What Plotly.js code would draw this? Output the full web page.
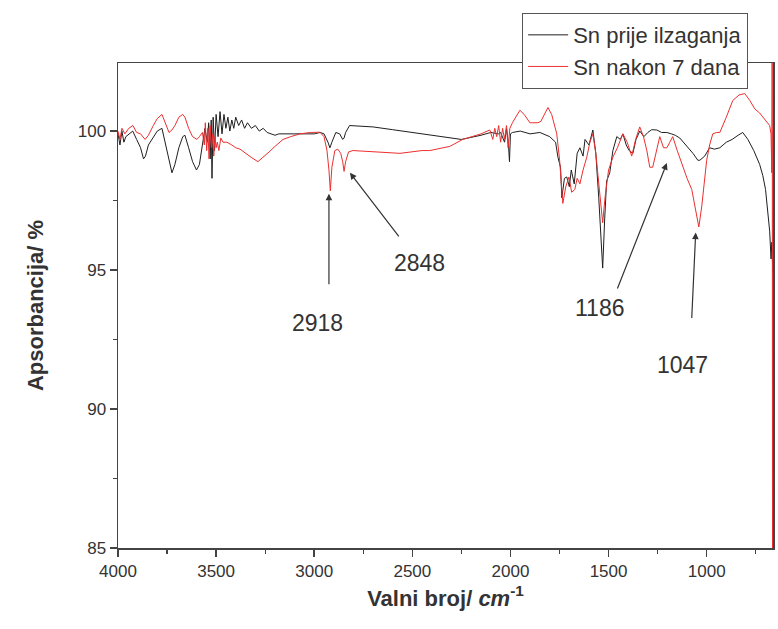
<!DOCTYPE html>
<html>
<head>
<meta charset="utf-8">
<script src="https://cdn.plot.ly/plotly-3.0.1.min.js"></script>
<style>html,body{margin:0;padding:0;background:#fff;}#chart{width:778px;height:629px;}</style>
</head>
<body>
<div id="chart"></div>
<script>
// Black series: "Sn prije ilzaganja"
var waveBefore = [4000,3990,3980,3970,3960,3945,3925,3905,3885,3870,3860,3845,3820,3800,3776,3760,3740,3725,3710,3690,3670,3659,3640,3620,3600,3585,3570,3557,3545,3538,3530,3525,3521,3515,3508,3500,3490,3480,3470,3460,3450,3440,3430,3420,3410,3400,3385,3370,3355,3340,3320,3300,3280,3260,3240,3220,3200,3180,3150,3100,3050,3000,2970,2950,2930,2920,2910,2890,2870,2855,2848,2840,2820,2700,2600,2500,2400,2300,2250,2150,2100,2060,2050,2030,2020,2010,2005,2000,1990,1950,1900,1850,1835,1800,1770,1758,1745,1738,1725,1713,1700,1690,1675,1660,1646,1630,1620,1600,1580,1565,1550,1540,1530,1520,1510,1494,1478,1458,1440,1427,1410,1395,1376,1360,1341,1320,1300,1280,1254,1230,1203,1180,1160,1137,1100,1070,1045,1035,1010,985,960,933,900,870,840,816,790,760,730,714,700,690,679,672,668,663];
var absBefore  = [99.9,99.5,100.0,99.6,99.8,99.9,100.0,99.7,99.4,99.0,99.1,99.5,99.8,100.0,100.1,99.6,98.9,98.5,98.8,99.4,99.8,99.85,99.4,98.9,98.6,98.8,99.5,100.1,99.6,100.3,99.0,100.4,98.3,100.5,99.3,100.6,99.8,100.7,99.9,100.6,100.1,100.5,100.0,100.4,100.1,100.5,100.2,100.4,100.1,100.3,100.1,100.2,100.0,100.1,99.95,99.9,99.85,99.9,99.9,99.9,99.9,99.9,99.95,99.9,99.6,99.4,99.6,99.95,99.9,99.7,99.75,99.95,100.2,100.15,100.05,99.95,99.85,99.75,99.7,99.85,99.95,99.9,99.95,99.6,100.1,99.5,98.9,99.9,99.95,100.0,99.9,99.95,99.9,99.8,99.6,99.06,98.7,97.6,98.3,98.35,98.0,98.6,98.1,99.2,99.4,99.1,99.7,99.5,100.04,99.2,97.6,96.2,95.07,96.8,98.2,98.5,99.3,99.8,99.7,99.9,99.5,99.3,99.2,99.7,100.0,99.8,99.95,100.05,100.04,99.95,99.95,99.9,99.85,99.75,99.45,99.2,98.95,98.95,99.1,99.4,99.35,99.4,99.6,99.7,99.85,99.95,99.7,99.3,98.8,98.4,97.9,97.2,96.4,95.4,96.0,94.9];

// Red series: "Sn nakon 7 dana"
var waveAfter = [4000,3990,3980,3965,3945,3924,3905,3885,3862,3845,3820,3800,3776,3760,3740,3725,3710,3690,3670,3659,3640,3620,3598,3585,3570,3560,3555,3548,3542,3536,3530,3524,3518,3512,3506,3500,3494,3486,3476,3465,3445,3420,3400,3378,3350,3320,3287,3260,3230,3200,3159,3120,3073,3020,2971,2950,2935,2925,2918,2910,2895,2880,2865,2855,2848,2840,2825,2803,2700,2563,2450,2411,2309,2243,2150,2105,2090,2080,2070,2060,2050,2040,2030,2020,2012,2003,1990,1975,1952,1930,1901,1886,1860,1845,1825,1809,1790,1764,1750,1733,1718,1702,1688,1672,1660,1646,1630,1611,1595,1580,1565,1550,1540,1530,1518,1500,1478,1455,1427,1405,1382,1362,1341,1322,1305,1290,1275,1255,1239,1220,1203,1188,1173,1150,1122,1100,1076,1055,1040,1025,1000,985,969,950,933,900,867,835,806,780,755,730,700,679,672,668,666,664,662];
var absAfter  = [100.0,99.7,100.1,99.9,100.1,100.2,99.95,99.9,99.7,99.85,100.2,100.45,100.6,100.3,99.95,100.04,100.2,100.5,100.6,100.5,100.1,99.8,99.7,99.8,99.95,99.5,100.3,99.3,100.1,99.0,100.2,99.4,99.9,99.1,99.8,99.4,99.6,99.3,99.75,99.6,99.6,99.5,99.4,99.35,99.2,99.05,98.9,99.05,99.25,99.45,99.7,99.8,99.9,99.95,99.96,99.8,99.3,98.6,97.85,98.7,99.3,99.35,99.2,98.9,98.55,98.9,99.25,99.3,99.25,99.2,99.3,99.3,99.45,99.7,99.9,100.04,99.7,100.1,99.8,100.2,99.6,100.1,99.7,100.2,99.4,100.1,100.3,100.5,100.75,100.6,100.3,100.3,100.3,100.35,100.6,100.85,100.6,99.9,99.0,97.4,98.0,98.35,97.8,97.9,98.3,98.1,98.6,99.06,99.6,99.9,99.2,98.0,97.4,96.7,97.6,98.6,99.06,99.4,99.9,99.6,99.1,99.7,100.15,99.8,99.3,98.7,98.7,99.3,99.8,99.4,99.4,99.6,99.8,99.3,98.7,98.3,97.9,97.1,96.55,97.3,98.95,99.5,99.9,99.95,99.95,100.5,101.1,101.3,101.35,101.1,100.8,100.65,100.4,100.2,99.9,98.5,105.0,80.0,100.0];

var labelBefore = "Sn prije ilzaganja";
var labelAfter = "Sn nakon 7 dana";

// Peak annotations: label, arrow tip (wavenumber, %), label position (wavenumber, %)
var peakLabels = ["2918","2848","1186","1047"];
var peakTipX = [2925, 2818, 1203, 1056];
var peakTipY = [97.75, 98.5, 98.85, 96.35];
var peakArrowAx = [0, 50, -50, -4];
var peakArrowAy = [92, 65, 127, 87];
var peakTextX = [2981, 2462, 1545, 1122];
var peakTextY = [93.1, 95.25, 93.63, 91.58];

var xTickVals = [4000,3500,3000,2500,2000,1500,1000];
var yTickVals = [85,90,95,100];

var FONT = "Liberation Sans, Arial, sans-serif";

var traces = [
  {x: waveBefore, y: absBefore, type: "scatter", mode: "lines", name: labelBefore,
   line: {color: "#1f1f1f", width: 1}},
  {x: waveAfter, y: absAfter, type: "scatter", mode: "lines", name: labelAfter,
   line: {color: "#ec2f2f", width: 1}}
];

var annotations = [];
for (var i = 0; i < peakLabels.length; i++) {
  annotations.push({x: peakTipX[i], y: peakTipY[i], xref: "x", yref: "y",
    ax: peakArrowAx[i], ay: peakArrowAy[i], text: "", showarrow: true,
    arrowhead: 2, arrowsize: 1.1, arrowwidth: 1.2, arrowcolor: "#333", standoff: 0, startstandoff: 0});
  annotations.push({x: peakTextX[i], y: peakTextY[i], xref: "x", yref: "y",
    text: peakLabels[i], showarrow: false, font: {family: FONT, size: 23, color: "#333"}});
}

var layout = {
  width: 778, height: 629,
  margin: {l: 118, r: 5, t: 63, b: 81},
  paper_bgcolor: "#fff", plot_bgcolor: "#fff",
  showlegend: true,
  legend: {x: 0.617, y: 1.103, xanchor: "left", yanchor: "top",
    bgcolor: "#fff", bordercolor: "#555", borderwidth: 1,
    font: {family: FONT, size: 22, color: "#333"}, tracegroupgap: 0, itemwidth: 40},
  xaxis: {range: [4000, 662], tickvals: xTickVals, ticks: "outside", ticklen: 7, tickwidth: 1.5,
    tickcolor: "#444", linecolor: "#444", linewidth: 1.5, mirror: true, showgrid: false, zeroline: false,
    minor: {dtick: 250, ticks: "outside", ticklen: 4, tickwidth: 1.2, tickcolor: "#444"},
    tickfont: {family: FONT, size: 17, color: "#333"},
    title: {text: "<b>Valni broj/ <i>cm</i><sup>-1</sup></b>", font: {family: FONT, size: 22, color: "#333"}, standoff: 10}},
  yaxis: {range: [85, 102.45], tickvals: yTickVals, ticks: "outside", ticklen: 7, tickwidth: 1.5,
    tickcolor: "#444", linecolor: "#444", linewidth: 1.5, mirror: true, showgrid: false, zeroline: false,
    minor: {dtick: 2.5, ticks: "outside", ticklen: 4, tickwidth: 1.2, tickcolor: "#444"},
    tickfont: {family: FONT, size: 17, color: "#333"},
    title: {text: "<b>Apsorbancija/ %</b>", font: {family: FONT, size: 22, color: "#333"}, standoff: 28}},
  annotations: annotations
};

Plotly.newPlot("chart", traces, layout, {displayModeBar: false, staticPlot: true});
</script>
</body>
</html>
